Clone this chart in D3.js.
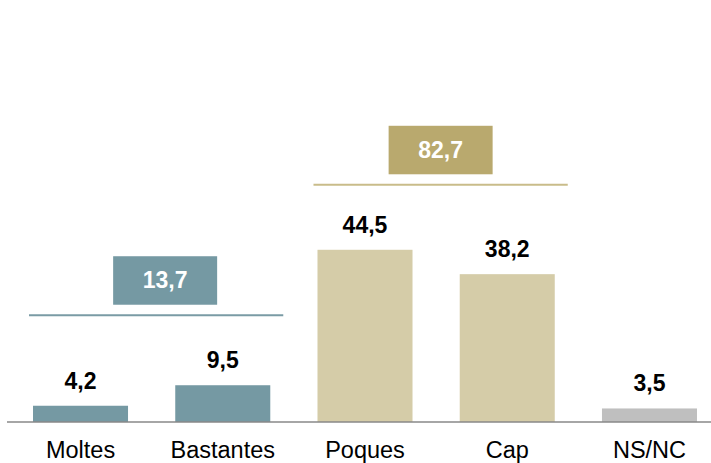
<!DOCTYPE html>
<html>
<head>
<meta charset="utf-8">
<script src="https://cdn.jsdelivr.net/npm/d3@7"></script>
<style>
  body { margin: 0; background: #fff; }
  svg { display: block; font-family: "Liberation Sans", Arial, sans-serif; }
</style>
</head>
<body>
<svg id="chart" width="711" height="463"></svg>
<script>
// data
var categories = ["Moltes", "Bastantes", "Poques", "Cap", "NS/NC"];
var values = [4.2, 9.5, 44.5, 38.2, 3.5];
var barColors = ["#7599a3", "#7599a3", "#d5cca8", "#d5cca8", "#bfbfbf"];

var groupLabels = ["13,7", "82,7"];
var groupMembers = [["Moltes", "Bastantes"], ["Poques", "Cap"]];
var groupBoxColors = ["#7599a3", "#b9a96e"];
var groupLineColors = ["#7a9ba5", "#c9bc8a"];

var fmt = function(v) { return String(v).replace(".", ","); };

var svg = d3.select("svg#chart"),
	width = +svg.attr("width"),
	baseY = 422;

var x = d3.scaleBand()
	.domain(categories)
	.range([9.4, 720.6])
	.paddingInner(0.332)
	.paddingOuter(0.166);

var y = d3.scaleLinear()
	.domain([0, 100])
	.range([baseY, 35]);

var bw = x.bandwidth();

// bars
svg.selectAll("rect.bar")
	.data(values)
  .enter().append("rect")
	.attr("class", "bar")
	.attr("x", function(d, i) { return x(categories[i]); })
	.attr("y", function(d) { return y(d); })
	.attr("width", bw)
	.attr("height", function(d) { return y(0) - y(d); })
	.attr("fill", function(d, i) { return barColors[i]; });

// value labels
svg.selectAll("text.val")
	.data(values)
  .enter().append("text")
	.attr("class", "val")
	.attr("x", function(d, i) { return x(categories[i]) + bw / 2; })
	.attr("y", function(d) { return y(d) - 17; })
	.attr("text-anchor", "middle")
	.attr("font-size", 23)
	.attr("font-weight", "bold")
	.attr("fill", "#000")
	.text(fmt);

// baseline axis
var axis = svg.append("g")
	.attr("transform", "translate(0," + baseY + ")")
	.call(d3.axisBottom(x).tickSize(0).tickPadding(19.5));
axis.select(".domain")
	.attr("d", "M7,0H" + width)
	.attr("stroke", "#888")
	.attr("stroke-width", 1.5);
axis.selectAll(".tick text")
	.attr("font-size", 23.5)
	.attr("font-family", "Liberation Sans, Arial, sans-serif")
	.attr("fill", "#000")
	.attr("dy", "0.71em");

// group summaries
var lineGap = [70, 65];
groupLabels.forEach(function(lbl, g) {
	var mem = groupMembers[g];
	var top = d3.max(mem, function(c) { return values[categories.indexOf(c)]; });
	var ly = y(top) - lineGap[g];
	var x0 = x(mem[0]) - 4,
		x1 = x(mem[mem.length - 1]) + bw + 13,
		cx = (x0 + x1) / 2 + (g === 0 ? 9 : 0);

	svg.append("line")
		.attr("x1", x0).attr("x2", x1)
		.attr("y1", ly).attr("y2", ly)
		.attr("stroke", groupLineColors[g])
		.attr("stroke-width", 2);

	svg.append("rect")
		.attr("x", cx - 52)
		.attr("y", ly - 59)
		.attr("width", 104)
		.attr("height", 48.5)
		.attr("fill", groupBoxColors[g]);

	svg.append("text")
		.attr("x", cx)
		.attr("y", ly - 27)
		.attr("text-anchor", "middle")
		.attr("font-size", 23)
		.attr("font-weight", "bold")
		.attr("fill", "#fff")
		.text(lbl);
});
</script>
</body>
</html>
